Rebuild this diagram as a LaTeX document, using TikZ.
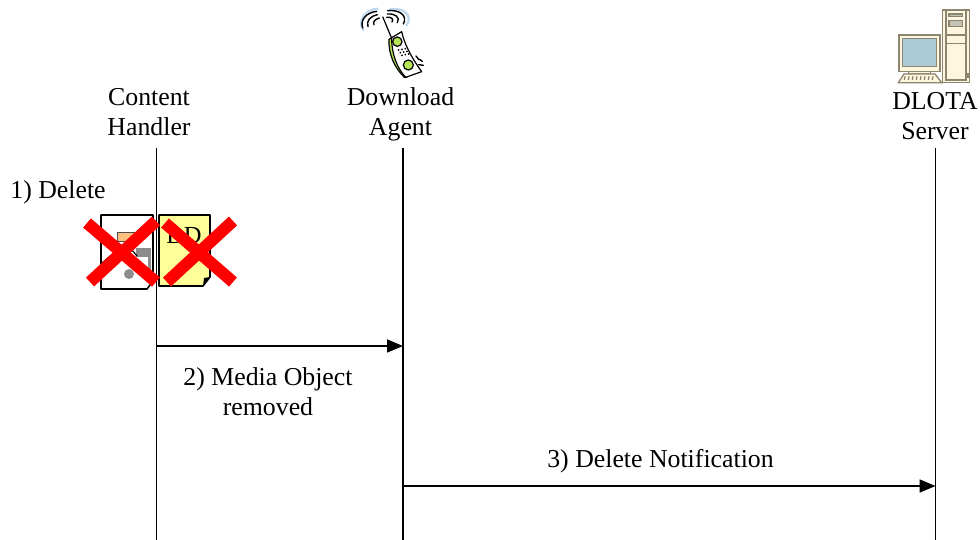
\documentclass[tikz,border=0pt]{standalone}
\usepackage{fontspec}
\setmainfont{Liberation Serif}
\usetikzlibrary{arrows.meta}
\definecolor{outlinegrey}{HTML}{8C8670}
\definecolor{cream}{HTML}{FFF6DF}
\definecolor{screenblue}{HTML}{ADCBD6}
\definecolor{docyellow}{HTML}{FFFF99}
\definecolor{phonegreen}{HTML}{B5E655}
\definecolor{waveblue}{HTML}{BFD8F0}
\tikzset{
  caption/.style={align=center, font=\fontsize{25.8}{30}\selectfont, inner sep=0pt},
  lifeline/.style={line width=1.9pt},
  message/.style={line width=1.6pt, -{Triangle[length=16pt,width=13pt]}},
  crossout/.style={red, line width=12pt},
  sheet/.style={draw=black, line width=1.6pt, line join=round},
  wave/.style={line width=1.4pt, line cap=round},
  kit/.style={draw=outlinegrey, line width=1.3pt, fill=cream}
}
\begin{document}
\begin{tikzpicture}[x=1pt,y=-1pt]
\useasboundingbox (0,0) rectangle (980,540);

% Lifeline titles
\node[caption] (handler) at (149,112.5) {Content\\Handler};
\node[caption] (agent) at (400.5,114.5) {Download\\Agent};
\node[caption] (server) at (935,116) {DLOTA\\Server};

% Lifelines
\coordinate (handlertop) at (156.5,148);
\coordinate (agenttop) at (403,148);
\coordinate (servertop) at (935.5,148);
\coordinate (handlerend) at (156.5,540);
\coordinate (agentend) at (403,540);
\coordinate (serverend) at (935.5,540);
\draw[lifeline] (handlertop) -- (handlerend);
\draw[lifeline] (agenttop) -- (agentend);
\draw[lifeline] (servertop) -- (serverend);

% Messages
\coordinate (removedstart) at (156.5,346);
\coordinate (removedend) at (403,346);
\coordinate (noticestart) at (403,486);
\coordinate (noticeend) at (935.5,486);
\draw[message] (removedstart) -- (removedend);
\draw[message] (noticestart) -- (noticeend);

% Step labels
\node[caption] (deletelabel) at (58,192.5) {1) Delete};
\node[caption] (removedlabel) at (268,392) {2) Media Object\\removed};
\node[caption] (noticelabel) at (660.5,461) {3) Delete Notification};

% Media object sheet
\draw[sheet, fill=white] (101,215) -- (153,215) -- (153,281) -- (147,289) -- (101,289) -- cycle;
\fill[orange!50, draw=black!70] (117,232) rectangle (135,241);
\fill[black!45] (136,248) rectangle (151,257);
\fill[black!45] (148,248) rectangle (151,280);
\fill[black!45] (129,274) circle (5);
\draw[black, line width=1.2pt] (102,263) -- (117,250);
\draw[black, line width=1.2pt] (132,250) -- (137,256);

% Descriptor sheet
\draw[sheet, fill=docyellow] (159,215) -- (210,215) -- (210,277) -- (203,286) -- (159,286) -- cycle;
\fill (203,286) -- (210,277) -- (204,278) -- cycle;
\node[font=\fontsize{24.5}{30}\selectfont, inner sep=0pt] (ddtext) at (184,236) {DD};

% Crosses
\draw[crossout] (87,223) -- (156,282);
\draw[crossout] (156,221) -- (90,282);
\draw[crossout] (165,223) -- (233,282);
\draw[crossout] (233,221) -- (167,282);

% Phone icon
\begin{scope}[shift={(340,0)},x=0.3333pt,y=-0.3333pt]
  \draw[wave, waveblue, line width=2.4pt] (112,26) .. controls (75,30) and (52,62) .. (70,90);
  \draw[wave, waveblue, line width=2.4pt] (150,28) .. controls (190,22) and (220,45) .. (200,76);
  \draw[wave] (110,34) .. controls (78,38) and (60,60) .. (68,84);
  \draw[wave] (112,44) .. controls (92,48) and (78,62) .. (84,80);
  \draw[wave] (118,54) .. controls (104,58) and (98,66) .. (102,74);
  \draw[wave] (143,32) .. controls (176,28) and (205,46) .. (190,72);
  \draw[wave] (142,42) .. controls (165,40) and (182,52) .. (172,68);
  \draw[wave] (140,52) .. controls (155,50) and (162,58) .. (156,66);
  \draw[line width=1.2pt] (128,50) -- (155,115);
  \draw[fill=phonegreen, line width=1.2pt, line join=round] (147,118) .. controls (145,165) and (165,205) .. (194,233) -- (205,229) .. controls (180,200) and (160,165) .. (158,112) -- cycle;
  \draw[line width=1.2pt, fill=white, line join=round] (155,113) -- (185,95) .. controls (195,140) and (220,180) .. (245,215) -- (197,232) .. controls (172,205) and (155,165) .. (155,113) -- cycle;
  \draw[fill=phonegreen, line width=1.2pt] (172,125) circle (14);
  \draw[fill=phonegreen, line width=1.2pt] (205,195) circle (15);
  \foreach \row/\col in {0/0, 0/1, 0/2, 1/0, 1/1, 1/2, 2/0, 2/1, 2/2}
    \fill ({176+\col*10+\row*5},{150+\row*8-\col*2}) circle (2.8);
  \draw[wave] (228,168) -- (236,178);
  \draw[wave] (238,178) -- (247,184);
  \draw[wave] (236,194) -- (250,196);
\end{scope}

% Server icon
\begin{scope}[shift={(880,0)},x=0.3333pt,y=-0.3333pt]
  % tower
  \draw[kit] (188,30) rectangle (268,248);
  \draw[kit] (198,30) rectangle (258,240);
  \draw[kit] (198,105) rectangle (258,130);
  \draw[kit, fill=outlinegrey!50] (207,42) rectangle (248,50);
  \draw[kit, fill=outlinegrey!50] (207,62) rectangle (248,80);
  \fill[outlinegrey] (258,218) rectangle (268,234);
  % monitor
  \draw[kit] (57,105) rectangle (180,215);
  \draw[kit, fill=screenblue] (68,115) rectangle (170,200);
  \draw[kit] (85,215) rectangle (152,222);
  % keyboard
  \draw[kit] (72,222) -- (165,222) -- (185,248) -- (55,248) -- cycle;
  \foreach \keyx in {75,87,...,165}
    \draw[outlinegrey, line width=1.3pt] (\keyx,229) -- (\keyx-2,240);
\end{scope}

\end{tikzpicture}
\end{document}
